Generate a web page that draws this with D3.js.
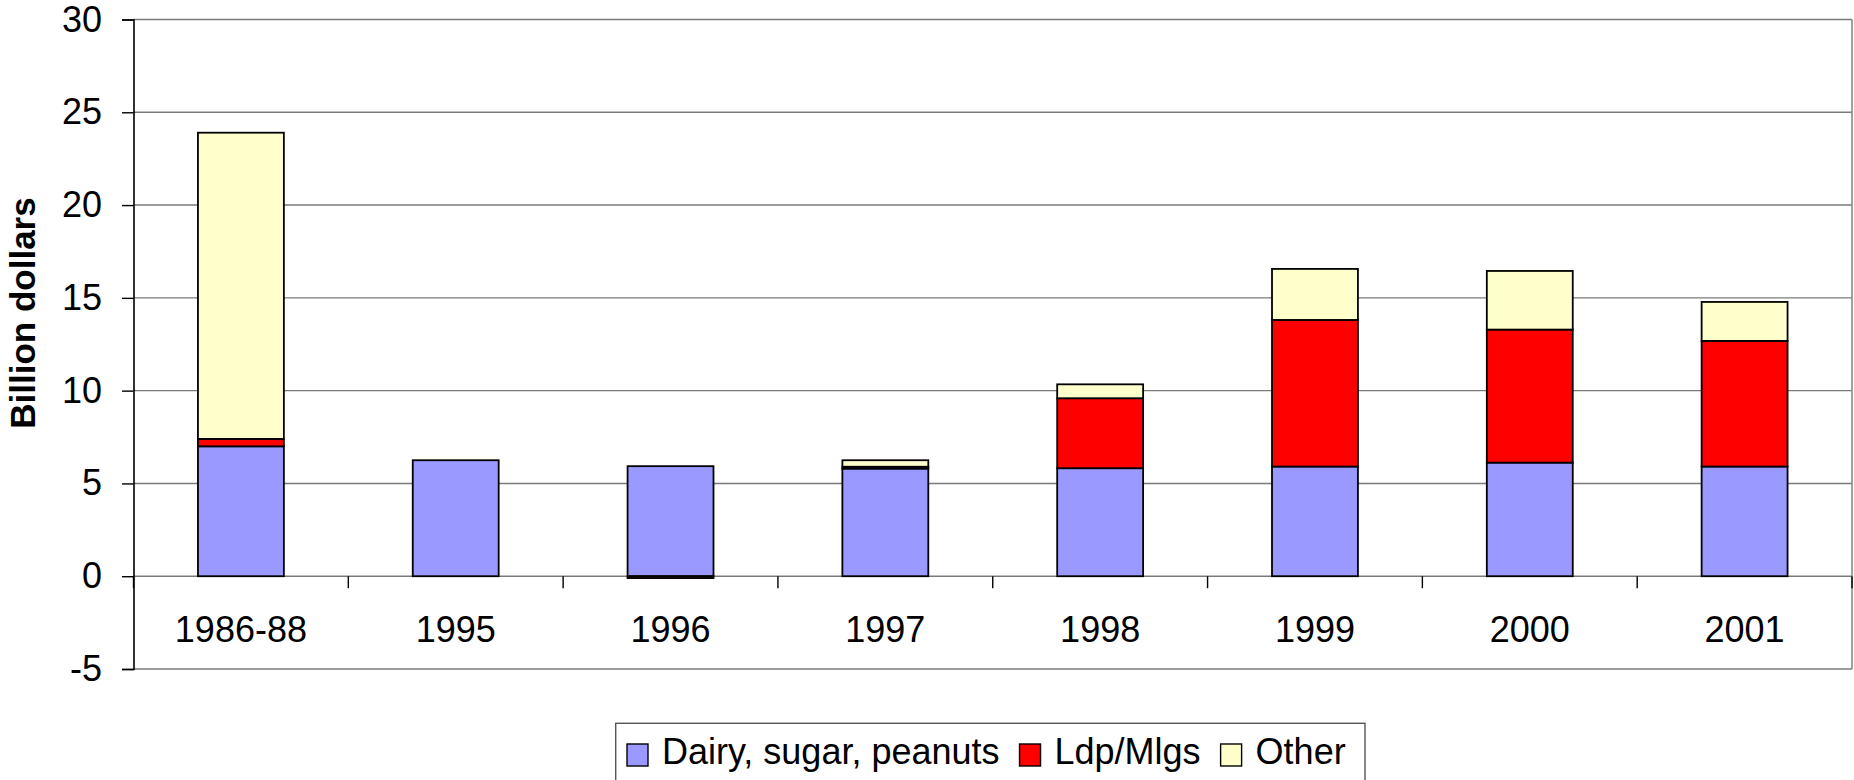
<!DOCTYPE html>
<html>
<head>
<meta charset="utf-8">
<script src="https://cdn.jsdelivr.net/npm/d3@7"></script>
<style>
  html, body { margin: 0; padding: 0; background: #fff; }
  svg { display: block; font-family: "Liberation Sans", Arial, sans-serif; }
</style>
</head>
<body>
<svg id="chart" width="1854" height="780"></svg>
<script>
// ---- Data ----
const categories = ["1986-88", "1995", "1996", "1997", "1998", "1999", "2000", "2001"];
const seriesNames = ["Dairy, sugar, peanuts", "Ldp/Mlgs", "Other"];
const dairy = [7.0, 6.25, 5.93, 5.8, 5.82, 5.91, 6.12, 5.91];
const ldp   = [0.4, 0.0, -0.1, 0.1, 3.77, 7.9, 7.17, 6.77];
const other = [16.5, 0.0, 0.0, 0.35, 0.75, 2.75, 3.16, 2.1];
const yTicks = [-5, 0, 5, 10, 15, 20, 25, 30];
const yTickLabels = ["-5", "0", "5", "10", "15", "20", "25", "30"];
const colors = ["#9999FF", "#FF0000", "#FFFFCC"];

// ---- Layout ----
const L = 133.5, R = 1852, T = 19.5, B = 669;
const svg = d3.select("#chart");

const rows = categories.map((c, i) => ({cat: c, s0: dairy[i], s1: ldp[i], s2: other[i]}));
const keys = ["s0", "s1", "s2"];
const stacked = d3.stack().keys(keys).offset(d3.stackOffsetDiverging)(rows);

const x = d3.scaleBand().domain(categories).range([L, R]).paddingInner(0.6).paddingOuter(0.3);
const y = d3.scaleLinear().domain([-5, 30]).range([B, T]);

// gridlines
svg.append("g").selectAll("line").data(yTicks).join("line")
  .attr("x1", L).attr("x2", R)
  .attr("y1", d => y(d)).attr("y2", d => y(d))
  .attr("stroke", "#7a7a7a").attr("stroke-width", 1.4);

// right border
svg.append("line").attr("x1", R).attr("x2", R).attr("y1", T).attr("y2", B)
  .attr("stroke", "#8a8a8a").attr("stroke-width", 1.6);

// bars
const g = svg.append("g");
stacked.forEach((layer, si) => {
  g.append("g").selectAll("rect").data(layer).join("rect")
    .attr("x", d => x(d.data.cat))
    .attr("width", x.bandwidth())
    .attr("y", d => y(Math.max(d[0], d[1])))
    .attr("height", d => Math.abs(y(d[0]) - y(d[1])))
    .attr("fill", colors[si])
    .attr("stroke", "#000").attr("stroke-width", 1.8)
    .style("display", d => (d[1] - d[0]) === 0 ? "none" : null);
});

// left y axis
const yAxis = d3.axisLeft(y).tickValues(yTicks).tickSize(11.5).tickPadding(20)
  .tickFormat((d, i) => yTickLabels[i]);
const ya = svg.append("g").attr("transform", `translate(${L},0)`).call(yAxis);
ya.select(".domain").attr("stroke", "#000").attr("stroke-width", 1.6);
ya.selectAll(".tick line").attr("stroke", "#000").attr("stroke-width", 1.4);
ya.selectAll(".tick text").attr("font-size", 36).attr("fill", "#000")
  .attr("font-family", "'Liberation Sans', Arial, sans-serif");

// category ticks on zero line
const bounds = categories.map(c => x(c) - x.step() * x.paddingOuter()).concat([R]);
svg.append("g").selectAll("line").data(bounds).join("line")
  .attr("x1", d => d).attr("x2", d => d)
  .attr("y1", y(0)).attr("y2", y(0) + 12)
  .attr("stroke", "#000").attr("stroke-width", 1.4);

// category labels
svg.append("g").selectAll("text").data(categories).join("text")
  .attr("x", d => x(d) + x.bandwidth() / 2)
  .attr("y", 642)
  .attr("text-anchor", "middle")
  .attr("font-size", 36)
  .text(d => d);

// y title
svg.append("text")
  .attr("transform", "translate(35,313) rotate(-90)")
  .attr("text-anchor", "middle")
  .attr("font-size", 35).attr("font-weight", "bold")
  .text("Billion dollars");

// legend
const lg = svg.append("g");
lg.append("rect").attr("x", 615.7).attr("y", 723.3).attr("width", 1365 - 615.7).attr("height", 80)
  .attr("fill", "#fff").attr("stroke", "#555").attr("stroke-width", 1.4);
let cx = 627;
seriesNames.forEach((name, i) => {
  lg.append("rect").attr("x", cx).attr("y", 744).attr("width", 21).attr("height", 22)
    .attr("fill", colors[i]).attr("stroke", "#000").attr("stroke-width", 1.4);
  const t = lg.append("text").attr("x", cx + 35).attr("y", 764)
    .attr("font-size", 36).text(name);
  cx = cx + 35 + t.node().getComputedTextLength() + 20;
});
</script>
</body>
</html>
